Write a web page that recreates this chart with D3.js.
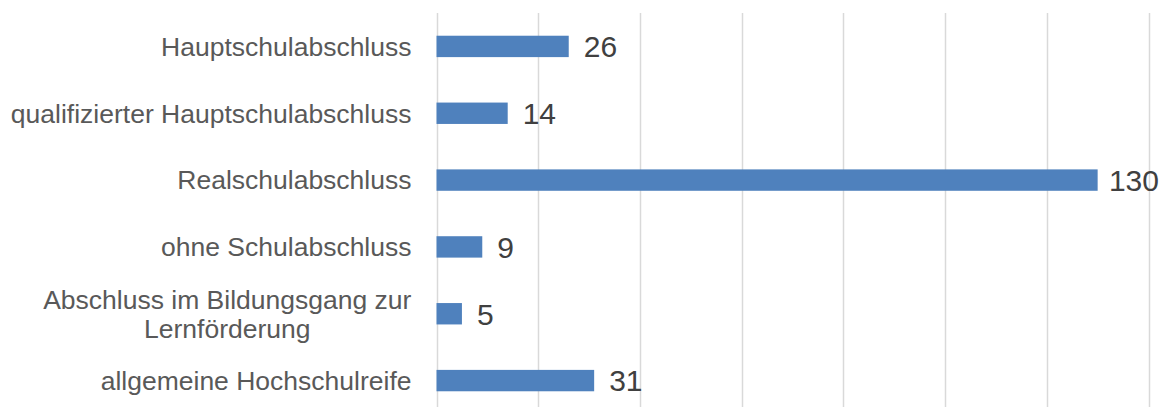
<!DOCTYPE html>
<html>
<head>
<meta charset="utf-8">
<script src="https://cdn.jsdelivr.net/npm/d3@7"></script>
<style>
  body { margin: 0; background: #fff; }
  svg { display: block; font-family: "Liberation Sans", Arial, sans-serif; }
</style>
</head>
<body>
<svg id="chart" width="1161" height="407"></svg>
<script>
const categories = [
  "Hauptschulabschluss",
  "qualifizierter Hauptschulabschluss",
  "Realschulabschluss",
  "ohne Schulabschluss",
  "Abschluss im Bildungsgang zur|Lernförderung",
  "allgemeine Hochschulreife"
];
const values = [26, 14, 130, 9, 5, 31];
const xTicks = [0, 20, 40, 60, 80, 100, 120, 140];

const svg = d3.select("#chart");
const chartWidth = 1161;
const plotLeft = 436.5, plotRight = 1148.5, plotTop = 13, plotBottom = 414;

const x = d3.scaleLinear().domain([0, 140]).range([plotLeft, plotRight]);
const y = d3.scaleBand().domain(categories).range([plotTop, plotBottom]).paddingInner(0.68).paddingOuter(0.34);

// gridlines
svg.append("g")
  .selectAll("line")
  .data(xTicks)
  .join("line")
  .attr("x1", (d) => Math.round(x(d)) + 0.5)
  .attr("x2", (d) => Math.round(x(d)) + 0.5)
  .attr("y1", plotTop)
  .attr("y2", 407)
  .attr("stroke", "#d9d9d9")
  .attr("stroke-width", 1.5);

const data = categories.map((c, i) => ({ cat: c, value: values[i] }));

svg.append("g")
  .selectAll("rect")
  .data(data)
  .join("rect")
  .attr("x", x(0))
  .attr("y", (d) => y(d.cat))
  .attr("width", (d) => x(d.value) - x(0))
  .attr("height", y.bandwidth())
  .attr("fill", "#4f81bd");

// value labels, pushed back inside the picture if they would run off the edge
svg.append("g")
  .selectAll("text")
  .data(data)
  .join("text")
  .attr("y", (d) => y(d.cat) + y.bandwidth() / 2)
  .attr("dy", "0.36em")
  .attr("font-size", 30)
  .attr("fill", "#404040")
  .text((d) => d.value)
  .attr("x", function (d) {
    const w = this.getComputedTextLength();
    return Math.min(x(d.value) + 15, chartWidth - w - 2);
  });

// category labels, "|" marks a line break
const labels = svg.append("g")
  .selectAll("text")
  .data(categories)
  .join("text")
  .attr("text-anchor", "middle")
  .attr("font-size", 26.5)
  .attr("fill", "#595959")
  .each(function (d) {
    const lines = d.split("|");
    const t = d3.select(this);
    const cy = y(d) + y.bandwidth() / 2;
    lines.forEach((line, i) => {
      t.append("tspan")
        .attr("x", 0)
        .attr("y", cy + (i - (lines.length - 1) / 2) * 29)
        .attr("dy", "0.35em")
        .text(line);
    });
  });

// right-align each block while keeping lines centred to each other
labels.each(function () {
  const t = d3.select(this);
  const w = this.getBBox().width;
  t.selectAll("tspan").attr("x", 411.5 - w / 2);
});
</script>
</body>
</html>
